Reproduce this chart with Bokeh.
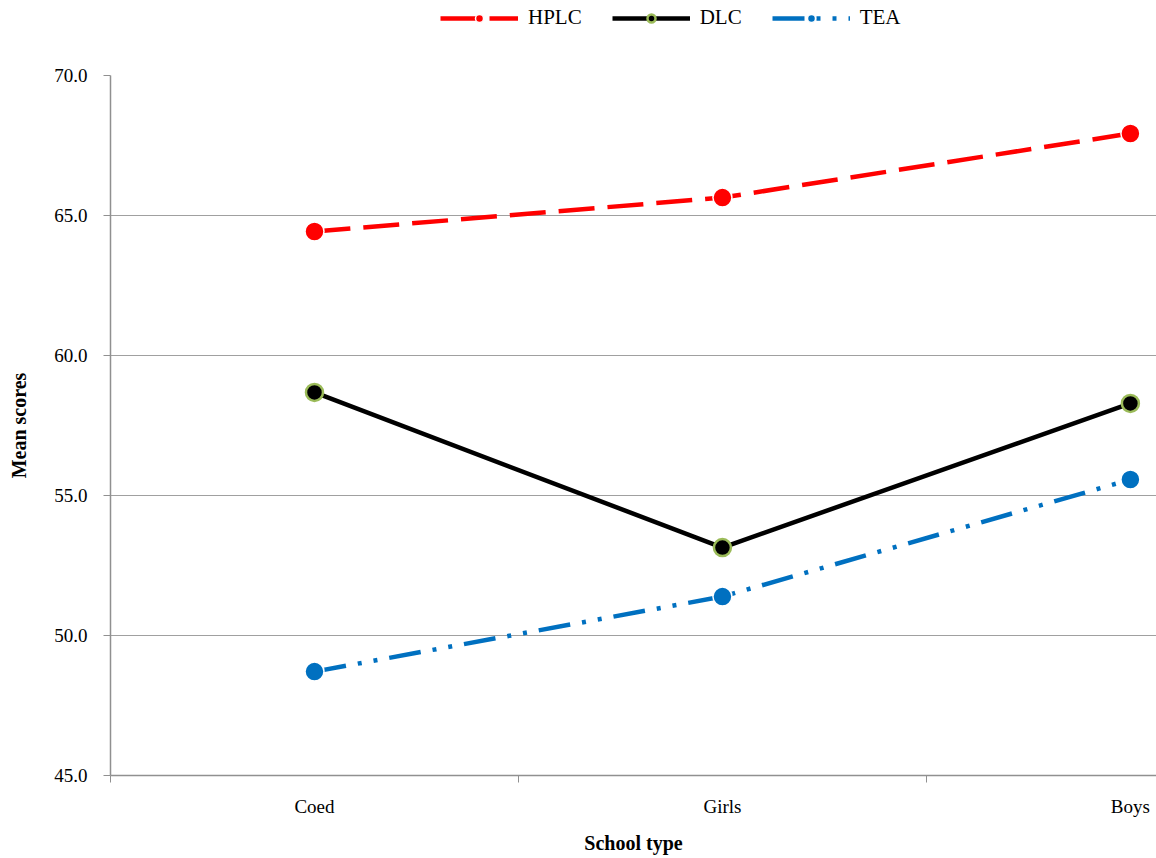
from bokeh.plotting import figure
from bokeh.models import FixedTicker, Range1d, Legend, LegendItem
from bokeh.layouts import column
from bokeh.embed import file_html
from bokeh.resources import INLINE

categories = ["Coed", "Girls", "Boys"]
hplc = [64.43, 65.64, 67.93]
dlc = [58.68, 53.14, 58.29]
tea = [48.71, 51.39, 55.57]
y_ticks = [45, 50, 55, 60, 65, 70]

xs = list(range(len(categories)))
FONT = "Liberation Serif"

STYLES = {
    "HPLC": dict(line=dict(line_color="#ff0000", line_width=4.5, line_dash="36 13"),
                 mark=dict(size=19, fill_color="#ff0000", line_color="white", line_width=1.5)),
    "DLC": dict(line=dict(line_color="black", line_width=4.5),
                mark=dict(size=17, fill_color="black", line_color="#9bbb59", line_width=2.5)),
    "TEA": dict(line=dict(line_color="#0070c0", line_width=4.5, line_dash="32 12 4 12 4 12"),
                mark=dict(size=19, fill_color="#0070c0", line_color="white", line_width=1.5)),
}
SERIES = {"HPLC": hplc, "DLC": dlc, "TEA": tea}

p = figure(width=1156, height=798, output_backend="svg", toolbar_location=None,
           x_range=Range1d(-0.5, 2.064), y_range=Range1d(45, 70),
           min_border_left=110, min_border_right=0, min_border_top=15, min_border_bottom=83)
p.outline_line_color = None

p.xgrid.grid_line_color = None
p.ygrid.grid_line_color = "#a0a0a0"
p.ygrid.grid_line_width = 1

p.xaxis.ticker = FixedTicker(ticks=xs, minor_ticks=[-0.5, 0.5, 1.5, 2.5])
p.xaxis.major_label_overrides = {i: c for i, c in enumerate(categories)}
p.xaxis.major_tick_out = 0
p.xaxis.major_tick_in = 0
p.xaxis.minor_tick_out = 7
p.xaxis.minor_tick_in = 0
p.xaxis.minor_tick_line_color = "#909090"
p.xaxis.axis_line_color = "#909090"
p.xaxis.axis_line_width = 1.5
p.xaxis.major_label_text_font = FONT
p.xaxis.major_label_text_font_size = "19px"
p.xaxis.major_label_text_color = "black"
p.xaxis.major_label_standoff = 13
p.xaxis.axis_label = "School type"
p.xaxis.axis_label_text_font = FONT
p.xaxis.axis_label_text_font_size = "20px"
p.xaxis.axis_label_text_font_style = "bold"
p.xaxis.axis_label_text_color = "black"
p.xaxis.axis_label_standoff = 12

p.yaxis.ticker = FixedTicker(ticks=y_ticks)
p.yaxis.major_label_overrides = {t: f"{t:.1f}" for t in y_ticks}
p.yaxis.minor_tick_line_color = None
p.yaxis.major_tick_out = 7
p.yaxis.major_tick_in = 0
p.yaxis.major_tick_line_color = "#909090"
p.yaxis.axis_line_color = "#909090"
p.yaxis.axis_line_width = 1.5
p.yaxis.major_label_text_font = FONT
p.yaxis.major_label_text_font_size = "19px"
p.yaxis.major_label_text_color = "black"
p.yaxis.major_label_standoff = 16
p.yaxis.axis_label = "Mean scores"
p.yaxis.axis_label_text_font = FONT
p.yaxis.axis_label_text_font_size = "20px"
p.yaxis.axis_label_text_font_style = "bold"
p.yaxis.axis_label_text_color = "black"
p.yaxis.axis_label_standoff = 21

for name, ys in SERIES.items():
    p.line(xs, ys, **STYLES[name]["line"])
    p.scatter(xs, ys, **STYLES[name]["mark"])

# legend strip above the chart
lg = figure(width=1156, height=60, output_backend="svg", toolbar_location=None,
            x_range=Range1d(100, 101), y_range=Range1d(100, 101),
            x_axis_type=None, y_axis_type=None, min_border=0)
lg.grid.visible = False
lg.outline_line_color = None
items = []
for name, ys in SERIES.items():
    lr = lg.line(xs, ys, **STYLES[name]["line"])
    mk = dict(STYLES[name]["mark"])
    mk["size"] = 12
    mr = lg.scatter(xs, ys, **mk)
    items.append(LegendItem(label=name, renderers=[lr, mr]))

legend = Legend(items=items, orientation="horizontal", location=(330, 30))
legend.label_text_font = FONT
legend.label_text_font_size = "21px"
legend.label_text_color = "black"
legend.glyph_width = 78
legend.glyph_height = 20
legend.spacing = 30
legend.label_standoff = 10
legend.border_line_color = None
legend.background_fill_alpha = 0
legend.margin = 0
legend.padding = 2
lg.add_layout(legend)

layout = column(lg, p, spacing=0)
open("out.html", "w").write(file_html(layout, INLINE))
